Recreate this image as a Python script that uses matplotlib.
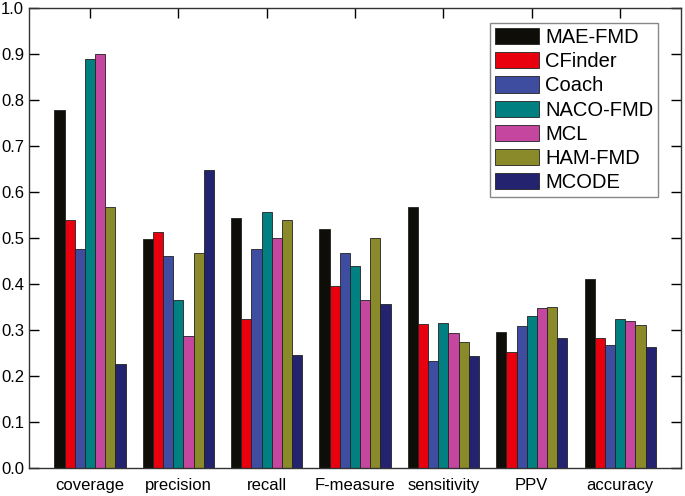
import numpy as np
import matplotlib.pyplot as plt

plt.rcParams['font.family'] = ['Liberation Sans', 'DejaVu Sans']

categories = ['coverage', 'precision', 'recall', 'F-measure', 'sensitivity', 'PPV', 'accuracy']
methods = ['MAE-FMD', 'CFinder', 'Coach', 'NACO-FMD', 'MCL', 'HAM-FMD', 'MCODE']
colors = ['#0f0d08', '#e8000f', '#3f4da0', '#008080', '#c5469f', '#8a8a2a', '#24236f']

mae_fmd = [0.778, 0.498, 0.544, 0.520, 0.568, 0.296, 0.411]
cfinder = [0.539, 0.513, 0.323, 0.396, 0.313, 0.253, 0.282]
coach = [0.476, 0.461, 0.476, 0.468, 0.233, 0.309, 0.267]
naco_fmd = [0.890, 0.365, 0.557, 0.440, 0.315, 0.331, 0.323]
mcl = [0.900, 0.287, 0.501, 0.365, 0.293, 0.349, 0.320]
ham_fmd = [0.568, 0.468, 0.539, 0.500, 0.274, 0.351, 0.310]
mcode = [0.226, 0.647, 0.246, 0.357, 0.243, 0.283, 0.263]
series = [mae_fmd, cfinder, coach, naco_fmd, mcl, ham_fmd, mcode]

fig = plt.figure(figsize=(6.85, 4.96), dpi=100)
ax = fig.add_axes([0.0423, 0.0565, 0.952, 0.927])

x = np.arange(len(categories))
w = 0.115
for i, (vals, name, c) in enumerate(zip(series, methods, colors)):
    ax.bar(x + (i - 3) * w, vals, w, color=c, edgecolor='#222222',
           linewidth=0.6, label=name)

ax.set_xlim(-0.69, 6.69)
ax.set_ylim(0, 1.0)
ax.set_yticks(np.arange(0, 1.01, 0.1))
ax.set_yticklabels([f'{v:.1f}' for v in np.arange(0, 1.01, 0.1)])
ax.set_xticks(x)
ax.set_xticklabels(categories)
ax.tick_params(direction='in', top=True, right=True, length=7, width=1,
               labelsize=12, colors='black')
ax.tick_params(axis='x', bottom=False, pad=7)
for s in ax.spines.values():
    s.set_linewidth(1.0)
    s.set_color('#333333')

leg = ax.legend(loc='upper right', bbox_to_anchor=(0.965, 0.967), borderaxespad=0,
                fontsize=14.5, handlelength=2.2, handleheight=0.85, labelspacing=0.25,
                handletextpad=0.3, fancybox=False, framealpha=1, borderpad=0.25)
leg.get_frame().set_edgecolor('#888888')
leg.get_frame().set_linewidth(1.0)

plt.savefig('out.png', dpi=100)
